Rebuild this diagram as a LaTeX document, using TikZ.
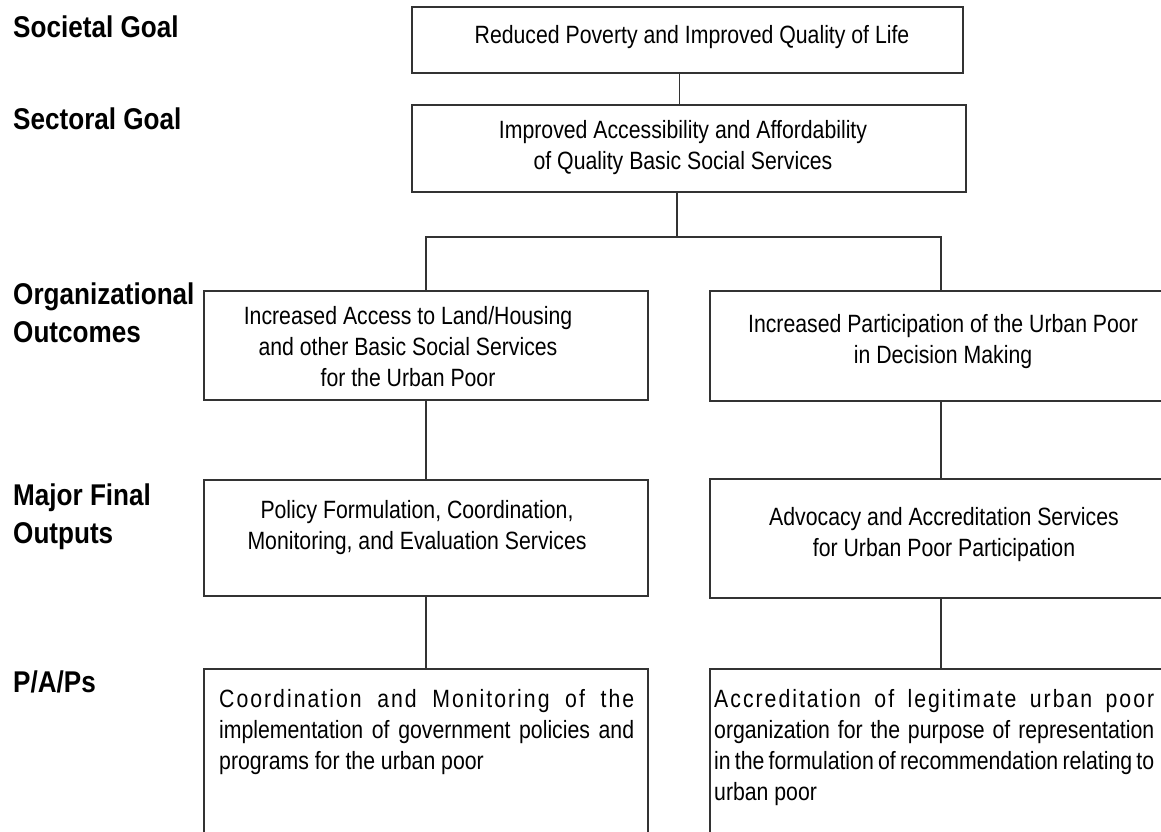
\documentclass[tikz,border=0pt]{standalone}
\usepackage{fontspec}
\setmainfont{Liberation Sans}[FakeStretch=0.85]
\newfontfamily\lblfont{Liberation Sans}[FakeStretch=0.87]
\usetikzlibrary{calc}
\newcommand\bodyfont{\fontsize{25}{31}\selectfont}
\newcommand\lblsize{\lblfont\bfseries\fontsize{30}{38}\selectfont}
\tikzset{
  box/.style={draw=black!80, line width=1.3pt, inner sep=0pt, outer sep=0pt, anchor=north west},
  conn/.style={draw=black!80, line width=1.3pt},
  txt/.style={anchor=base, inner sep=0pt, font=\bodyfont},
  lbl/.style={anchor=base west, inner sep=0pt, font=\lblsize},
}
\begin{document}
\begin{tikzpicture}[x=1pt,y=-1pt]
\useasboundingbox (0,0) rectangle (1161,831);
\clip (0,0) rectangle (1161,831);

% row labels
\node[lbl] (l1) at (13,37) {Societal Goal};
\node[lbl] (l2) at (13,129) {Sectoral Goal};
\node[lbl] (l3) at (13,304) {\begin{tabular}[t]{@{}l@{}}Organizational\\Outcomes\end{tabular}};
\node[lbl] (l4) at (13,505) {\begin{tabular}[t]{@{}l@{}}Major Final\\Outputs\end{tabular}};
\node[lbl] (l5) at (13,692) {P/A/Ps};

% boxes
\node[box, minimum width=551pt, minimum height=66pt] (top) at (412,7) {};
\node[box, minimum width=554pt, minimum height=87pt] (sect) at (412,105) {};
\node[box, minimum width=444pt, minimum height=109pt] (oo1) at (204,291) {};
\node[box, minimum width=462pt, minimum height=110pt] (oo2) at (710,291) {};
\node[box, minimum width=444pt, minimum height=116pt] (mfo1) at (204,480) {};
\node[box, minimum width=462pt, minimum height=119pt] (mfo2) at (710,479) {};
\node[box, minimum width=444pt, minimum height=220pt] (pap1) at (204,669) {};
\node[box, minimum width=462pt, minimum height=220pt] (pap2) at (710,669) {};

% texts
\node[txt] (topT) at (692,43) {Reduced Poverty and Improved Quality of Life};
\node[txt] (sectT) at (683,138) {\begin{tabular}[t]{@{}c@{}}Improved Accessibility and Affordability\\of Quality Basic Social Services\end{tabular}};
\node[txt] (oo1T) at (408,324) {\begin{tabular}[t]{@{}c@{}}Increased Access to Land/Housing\\and other Basic Social Services\\for the Urban Poor\end{tabular}};
\node[txt] (oo2T) at (943,332) {\begin{tabular}[t]{@{}c@{}}Increased Participation of the Urban Poor\\in Decision Making\end{tabular}};
\node[txt] (mfo1T) at (417,518) {\begin{tabular}[t]{@{}c@{}}Policy Formulation, Coordination,\\Monitoring, and Evaluation Services\end{tabular}};
\node[txt] (mfo2T) at (944,525) {\begin{tabular}[t]{@{}c@{}}Advocacy and Accreditation Services\\for Urban Poor Participation\end{tabular}};
\node[txt, anchor=base west] (pap1T) at (219,707) {\begin{tabular}[t]{@{}l@{}}%
{\addfontfeature{LetterSpace=8}\makebox[415pt][s]{Coordination and Monitoring of the}}\\
\makebox[415pt][s]{implementation of government policies and}\\
programs for the urban poor\end{tabular}};
\node[txt, anchor=base west] (pap2T) at (714,707) {\begin{tabular}[t]{@{}l@{}}%
{\addfontfeature{LetterSpace=8}\makebox[440pt][s]{Accreditation of legitimate urban poor}}\\
\makebox[440pt][s]{organization for the purpose of representation}\\
{\spaceskip=2pt plus 1fil\makebox[440pt][s]{in the formulation of recommendation relating to}}\\
urban poor\end{tabular}};

% connectors
\coordinate (j) at (677,237);
\draw[conn] ([xshift=-8pt]top.south) -- ([xshift=-8pt]top.south |- sect.north);
\draw[conn] (sect.south -| j) -- (j);
\draw[conn] (oo1.north) -- (oo1.north |- j) -- (oo2.north |- j) -- (oo2.north);
\draw[conn] (oo1.south) -- (mfo1.north);
\draw[conn] (oo2.south) -- (mfo2.north);
\draw[conn] (mfo1.south) -- (pap1.north);
\draw[conn] (mfo2.south) -- (pap2.north);
\end{tikzpicture}
\end{document}
